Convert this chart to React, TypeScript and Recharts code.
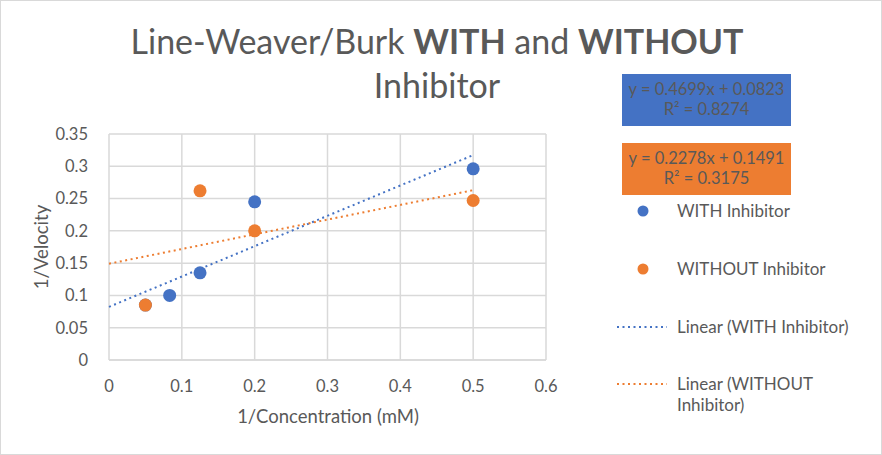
import { ScatterChart, Scatter, XAxis, YAxis, CartesianGrid, ReferenceLine } from "recharts";

const withX = [0.05, 0.0833, 0.125, 0.2, 0.5];
const withY = [0.085, 0.1, 0.135, 0.245, 0.296];
const withoutX = [0.05, 0.125, 0.2, 0.5];
const withoutY = [0.085, 0.262, 0.2, 0.247];

// trendline coefficients as printed on the chart
const withSlope = 0.4699;
const withIntercept = 0.0823;
const withoutSlope = 0.2278;
const withoutIntercept = 0.1491;
const trendStart = 0;
const trendEnd = 0.5;

const xTicks = [0, 0.1, 0.2, 0.3, 0.4, 0.5, 0.6];
const yTicks = [0, 0.05, 0.1, 0.15, 0.2, 0.25, 0.3, 0.35];

const BLUE = "#4472C4";
const ORANGE = "#ED7D31";
const TEXT = "#595959";
const GRID = "#D9D9D9";
const FONT = "Lato, 'Open Sans', sans-serif";

const withData = withX.map((x, i) => ({ x, y: withY[i] }));
const withoutData = withoutX.map((x, i) => ({ x, y: withoutY[i] }));

const Dot = (color: string) => (props: any) => (
  <circle cx={props.cx} cy={props.cy} r={6.5} fill={color} />
);

const abs = (left: number, top: number, extra: React.CSSProperties = {}): React.CSSProperties => ({
  position: "absolute",
  left,
  top,
  fontFamily: FONT,
  color: TEXT,
  whiteSpace: "nowrap",
  ...extra,
});

export default function App() {
  const tick = { fill: TEXT, fontSize: 16.5, fontFamily: FONT };
  const box = { width: 169, height: 52, textAlign: "center" as const, fontSize: 16.5, lineHeight: "20px", paddingTop: 5, boxSizing: "border-box" as const };
  const leg = { fontSize: 17, lineHeight: "21px" };
  return (
    <div style={{ position: "absolute", left: 0, top: 0, width: 882, height: 455, background: "#fff" }}>
      <div style={{ position: "absolute", inset: 0, border: `1px solid ${GRID}`, boxSizing: "border-box" }} />
      <ScatterChart width={882} height={455} margin={{ top: 134, right: 336, bottom: 65, left: 0 }}>
        <CartesianGrid stroke={GRID} strokeWidth={1.5} />
        <XAxis
          type="number"
          dataKey="x"
          domain={[0, 0.6]}
          ticks={xTicks}
          height={30}
          tick={tick}
          tickLine={false}
          axisLine={{ stroke: GRID, strokeWidth: 1.5 }}
          tickMargin={14}
        />
        <YAxis
          type="number"
          dataKey="y"
          domain={[0, 0.35]}
          ticks={yTicks}
          width={109}
          tick={tick}
          tickLine={false}
          axisLine={false}
          tickMargin={15}
        />
        <ReferenceLine
          segment={[
            { x: trendStart, y: withIntercept + withSlope * trendStart },
            { x: trendEnd, y: withIntercept + withSlope * trendEnd },
          ]}
          stroke={BLUE}
          strokeWidth={2}
          strokeDasharray="2 3.5"
        />
        <ReferenceLine
          segment={[
            { x: trendStart, y: withoutIntercept + withoutSlope * trendStart },
            { x: trendEnd, y: withoutIntercept + withoutSlope * trendEnd },
          ]}
          stroke={ORANGE}
          strokeWidth={2}
          strokeDasharray="2 3.5"
        />
        <Scatter data={withData} fill={BLUE} shape={Dot(BLUE)} isAnimationActive={false} />
        <Scatter data={withoutData} fill={ORANGE} shape={Dot(ORANGE)} isAnimationActive={false} />
      </ScatterChart>

      {/* title */}
      <div style={abs(0, 19, { width: 874, textAlign: "center", fontSize: 34, lineHeight: "44px" })}>
        Line-Weaver/Burk <b>WITH</b> and <b>WITHOUT</b>
        <br />
        Inhibitor
      </div>

      {/* axis titles */}
      <div style={abs(41, 247, { fontSize: 18.5, transform: "translate(-50%, -50%) rotate(-90deg)" })}>1/Velocity</div>
      <div style={abs(328, 416, { fontSize: 18.5, transform: "translate(-50%, -50%)" })}>1/Concentration (mM)</div>

      {/* trendline equations */}
      <div style={abs(622, 74, { ...box, background: BLUE })}>
        y = 0.4699x + 0.0823
        <br />
        R² = 0.8274
      </div>
      <div style={abs(622, 143, { ...box, background: ORANGE })}>
        y = 0.2278x + 0.1491
        <br />
        R² = 0.3175
      </div>

      {/* legend */}
      <svg style={{ position: "absolute", left: 0, top: 0 }} width={882} height={455}>
        <circle cx={643} cy={211} r={5.5} fill={BLUE} />
        <circle cx={643} cy={269} r={5.5} fill={ORANGE} />
        <line x1={617} x2={667} y1={327} y2={327} stroke={BLUE} strokeWidth={2} strokeDasharray="2 3.5" />
        <line x1={617} x2={667} y1={384} y2={384} stroke={ORANGE} strokeWidth={2} strokeDasharray="2 3.5" />
      </svg>
      <div style={abs(677, 200, leg)}>WITH Inhibitor</div>
      <div style={abs(677, 258, leg)}>WITHOUT Inhibitor</div>
      <div style={abs(677, 316, leg)}>Linear (WITH Inhibitor)</div>
      <div style={abs(677, 373, leg)}>
        Linear (WITHOUT
        <br />
        Inhibitor)
      </div>
    </div>
  );
}
